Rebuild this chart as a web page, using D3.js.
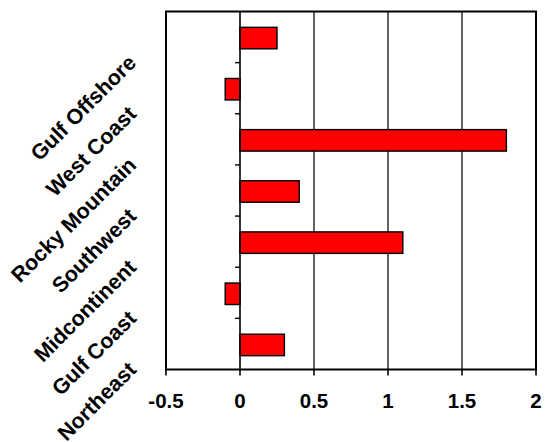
<!DOCTYPE html>
<html><head><meta charset="utf-8">
<script src="https://cdn.jsdelivr.net/npm/d3@7"></script>
<style>body{margin:0;background:#fff}svg{display:block}text{font-family:"Liberation Sans",Arial,sans-serif;font-weight:bold;fill:#000}</style>
</head><body>
<svg id="c" width="546" height="442"></svg>
<script>
const categories = ["Gulf Offshore","West Coast","Rocky Mountain","Southwest","Midcontinent","Gulf Coast","Northeast"];
const values = [0.25,-0.1,1.8,0.4,1.1,-0.1,0.3];
const xTicks = [-0.5,0,0.5,1,1.5,2];
const xTickLabels = ["-0.5","0","0.5","1","1.5","2"];

const svg = d3.select("#c");
const L=166, R=536, T=11.5, B=369.5;
const x = d3.scaleLinear().domain([-0.5,2]).range([L,R]);
const y = d3.scaleBand().domain(categories).range([T,B]).paddingInner(0).paddingOuter(0);
const bh = y.bandwidth()*0.42;

// gridlines
svg.append("g").selectAll("line").data(xTicks.filter(v=>v>0 && v<2)).join("line")
  .attr("x1",d=>x(d)).attr("x2",d=>x(d)).attr("y1",T).attr("y2",B)
  .attr("stroke","#222").attr("stroke-width",1.4);

// bars
svg.append("g").selectAll("rect").data(categories).join("rect")
  .attr("x",(d,i)=>x(Math.min(0,values[i])))
  .attr("width",(d,i)=>Math.abs(x(values[i])-x(0)))
  .attr("y",d=>y(d)+y.bandwidth()/2-bh/2+1)
  .attr("height",bh)
  .attr("fill","#ff0000").attr("stroke","#000").attr("stroke-width",1.4);

// zero axis
svg.append("line").attr("x1",x(0)).attr("x2",x(0)).attr("y1",T).attr("y2",B)
  .attr("stroke","#000").attr("stroke-width",1.6);
// y ticks on zero axis
svg.append("g").selectAll("line").data(categories.slice(1)).join("line")
  .attr("x1",x(0)-5).attr("x2",x(0)).attr("y1",d=>y(d)).attr("y2",d=>y(d))
  .attr("stroke","#000").attr("stroke-width",1.4);

// plot border
svg.append("rect").attr("x",L).attr("y",T).attr("width",R-L).attr("height",B-T)
  .attr("fill","none").attr("stroke","#000").attr("stroke-width",2);

// x axis ticks + labels
const xa = svg.append("g");
xa.selectAll("line").data(xTicks).join("line")
  .attr("x1",d=>x(d)).attr("x2",d=>x(d)).attr("y1",B).attr("y2",B+6)
  .attr("stroke","#000").attr("stroke-width",1.6);
xa.selectAll("text").data(xTicks).join("text")
  .attr("x",d=>x(d)).attr("y",408).attr("text-anchor","middle")
  .attr("font-size","20.5px").text((d,i)=>xTickLabels[i]);

// category labels
svg.append("g").selectAll("text").data(categories).join("text")
  .attr("transform",d=>`translate(137.5,${y(d)+y.bandwidth()/2+27}) rotate(-45)`)
  .attr("text-anchor","end").attr("font-size","21.5px").text(d=>d);
</script>
</body></html>
